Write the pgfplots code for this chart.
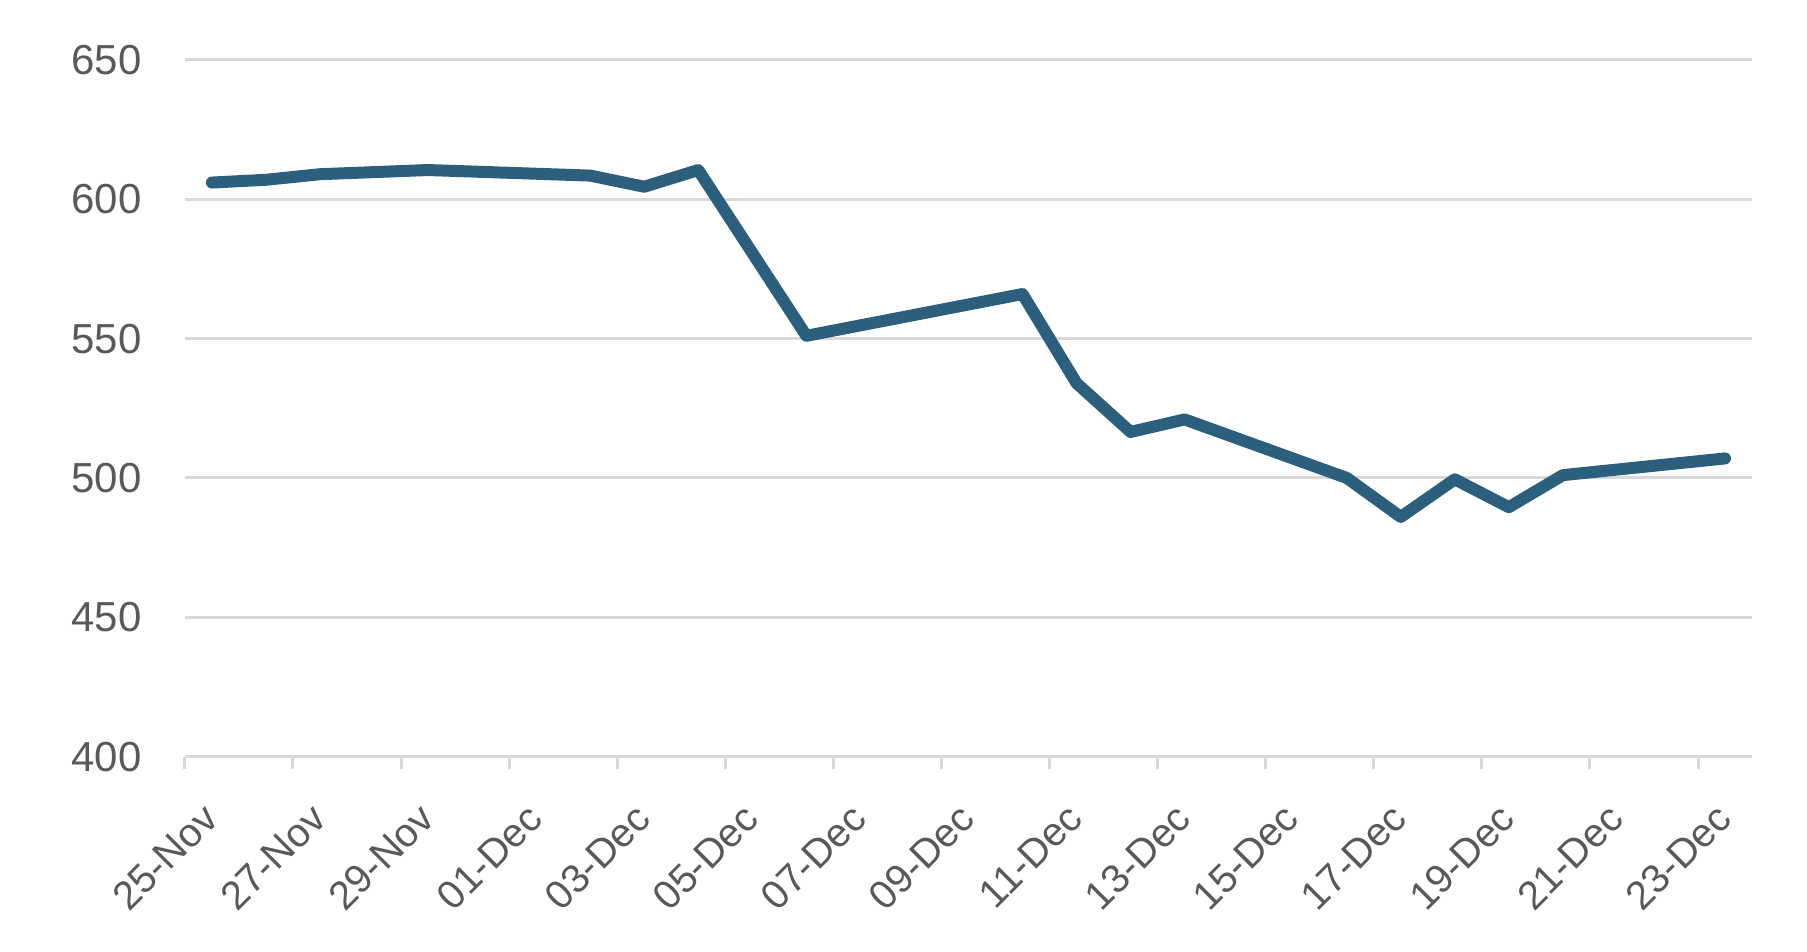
\documentclass[border=0pt]{standalone}
\usepackage{pgfplots}
\pgfplotsset{compat=1.18}
\usepackage{fontspec}
\setmainfont{Liberation Sans}

\definecolor{linecol}{RGB}{44,94,126}
\definecolor{gridgray}{HTML}{D9D9D9}
\definecolor{labelgray}{HTML}{595959}

% 1 px of the reference = 0.5pt
\begin{document}
\begin{tikzpicture}
\begin{axis}[
    name=ax,
    scale only axis,
    width=784pt, height=348.5pt,
    xmin=0, xmax=29,
    ymin=400, ymax=650,
    ytick={400,450,...,650},
    xtick={0,2,...,28},
    xticklabels={25-Nov,27-Nov,29-Nov,01-Dec,03-Dec,05-Dec,07-Dec,09-Dec,11-Dec,13-Dec,15-Dec,17-Dec,19-Dec,21-Dec,23-Dec},
    axis x line*=bottom,
    axis y line*=left,
    axis line style={-, draw=gridgray, line width=1.5pt},
    y axis line style={draw=none},
    ytick style={draw=none},
    xtick style={draw=gridgray, line width=1.5pt},
    tick align=outside,
    major tick length=6pt,
    ymajorgrids,
    grid style={gridgray, line width=1.5pt},
    /pgf/number format/assume math mode=true,
    tick label style={font=\fontsize{21}{24}\selectfont, text=labelgray},
    yticklabel style={inner sep=0pt, xshift=-15.5pt},
    xticklabel style={font=\fontsize{20}{23}\selectfont, rotate=45, anchor=north east, inner sep=0pt, xshift=-6pt, yshift=-17pt},
    clip=false,
]
\addplot[linecol, line width=6pt, line cap=round, line join=round] coordinates {
    (0.5,606) (1.5,607) (2.5,609) (4.5,610.5) (7.5,608.5) (8.5,604.5)
    (9.5,610.5) (11.5,551) (15.5,566) (16.5,534) (17.5,516.5) (18.5,521)
    (21.5,500) (22.5,486) (23.5,499.5) (24.5,489.5) (25.5,501) (28.5,507)
};
\end{axis}
\path ([xshift=-92.5pt,yshift=-97.5pt]ax.south west) rectangle ([xshift=27.5pt,yshift=30pt]ax.north east);
\end{tikzpicture}
\end{document}
